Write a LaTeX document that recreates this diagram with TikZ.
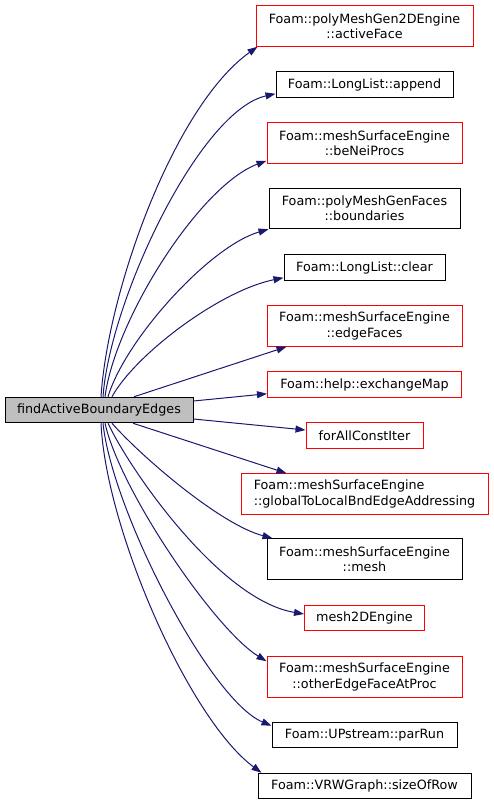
\documentclass[tikz,border=0pt]{standalone}
\usepackage{fontspec}
\setmainfont{DejaVu Sans}
\usetikzlibrary{arrows.meta}
\definecolor{callcol}{RGB}{25,25,112}
\definecolor{rootfill}{RGB}{191,191,191}

\begin{document}
\begin{tikzpicture}[x=1pt,y=-1pt,
  fn/.style={rectangle,draw,line width=1pt,inner sep=0pt,align=center,
             font=\fontsize{12.75}{15.3}\selectfont},
  one/.style={minimum height=25.5},
  two/.style={minimum height=40.5},
  fnref/.style={fn,draw=red},
  fnplain/.style={fn,draw=black},
  froot/.style={fn,draw=black,fill=rootfill},
  call/.style={callcol,line width=1pt,
               -{Stealth[length=10pt,width=7pt,inset=0pt]}}
]
\useasboundingbox (0,0) rectangle (493,805);
\def\xc{364.5}
\node[froot,one,minimum width=188] (find) at (99,410) {findActiveBoundaryEdges};
\node[fnref,two,minimum width=217]   (activeFace)    at (\xc,26)    {Foam::polyMeshGen2DEngine\\::activeFace};
\node[fnplain,one,minimum width=177] (append)        at (\xc,84.5)  {Foam::LongList::append};
\node[fnref,two,minimum width=195]   (beNeiProcs)    at (\xc,143)   {Foam::meshSurfaceEngine\\::beNeiProcs};
\node[fnplain,two,minimum width=191] (boundaries)    at (\xc,208.5) {Foam::polyMeshGenFaces\\::boundaries};
\node[fnplain,one,minimum width=161] (clear)         at (\xc,267.5) {Foam::LongList::clear};
\node[fnref,two,minimum width=195]   (edgeFaces)     at (\xc,326)   {Foam::meshSurfaceEngine\\::edgeFaces};
\node[fnref,one,minimum width=194]   (exchangeMap)   at (\xc,384.5) {Foam::help::exchangeMap};
\node[fnref,one,minimum width=117]   (forAll)        at (\xc,435.5) {forAllConstIter};
\node[fnref,two,minimum width=247,align=left] (globalToLocal) at (\xc,494) {Foam::meshSurfaceEngine\\::globalToLocalBndEdgeAddressing};
\node[fnplain,two,minimum width=195] (mesh)          at (\xc,559)   {Foam::meshSurfaceEngine\\::mesh};
\node[fnref,one,minimum width=120]   (mesh2D)        at (\xc,618)   {mesh2DEngine};
\node[fnref,two,minimum width=195]   (otherEdge)     at (\xc,677)   {Foam::meshSurfaceEngine\\::otherEdgeFaceAtProc};
\node[fnplain,one,minimum width=185] (parRun)        at (\xc,735)   {Foam::UPstream::parRun};
\node[fnplain,one,minimum width=213] (sizeOfRow)     at (\xc,786)   {Foam::VRWGraph::sizeOfRow};
% calls going up
\draw[call] ([xshift=2]find.north) .. controls +(7,-107) and +(-83,59) .. ([xshift=2]activeFace.south west);
\draw[call] ([xshift=4]find.north) .. controls +(7,-97) and +(-76,17) .. ([yshift=4]append.south west);
\draw[call] ([xshift=6]find.north) .. controls +(10,-77) and +(-67,25) .. ([yshift=3]beNeiProcs.south west);
\draw[call] ([xshift=9]find.north) .. controls +(17,-57) and +(-59,17) .. (boundaries.south west);
\draw[call] ([xshift=13]find.north) .. controls +(23,-42) and +(-64,13) .. ([yshift=3]clear.south west);
\draw[call] ([xshift=35]find.north) -- ([xshift=20]edgeFaces.south west);
% calls to the side
\draw[call] ([yshift=9]find.east) -- ([yshift=4]exchangeMap.south west);
\draw[call] ([yshift=-9]find.east) -- ([yshift=5.5]forAll.west);
% calls going down
\draw[call] ([xshift=34]find.south) -- ([xshift=46]globalToLocal.north west);
\draw[call] ([xshift=13]find.south) .. controls +(28,32) and +(-53,-14) .. ([xshift=6]mesh.north west);
\draw[call] ([xshift=9]find.south) .. controls +(22,47) and +(-84,-14) .. ([yshift=4]mesh2D.west);
\draw[call] ([xshift=6]find.south) .. controls +(15,67) and +(-52,-32) .. ([yshift=-5]otherEdge.north west);
\draw[call] ([xshift=4]find.south) .. controls +(9,87) and +(-62,-26) .. ([yshift=-4]parRun.north west);
\draw[call] ([xshift=2]find.south) .. controls +(5,107) and +(-72,-53) .. ([xshift=4]sizeOfRow.north west);
\end{tikzpicture}
\end{document}
